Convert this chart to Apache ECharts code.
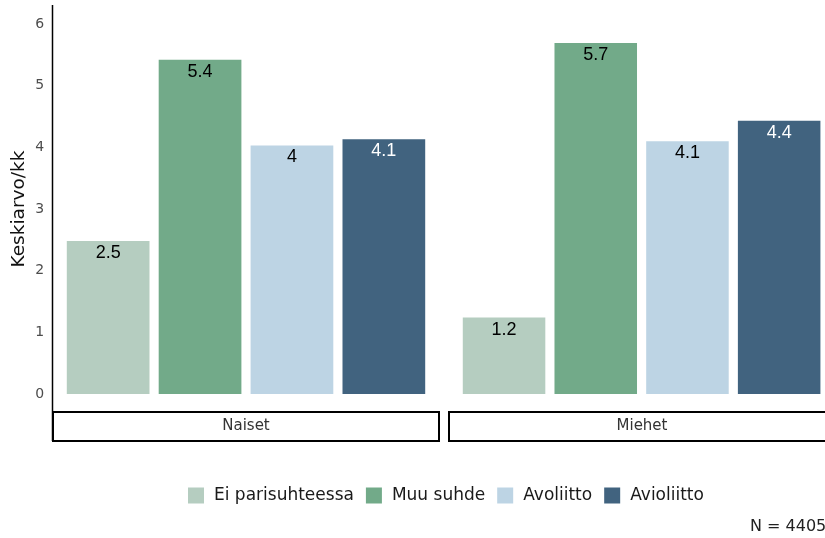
<!DOCTYPE html>
<html><head><meta charset="utf-8">
<script src="https://cdn.jsdelivr.net/npm/echarts@6/dist/echarts.min.js"></script>
<style>html,body{margin:0;padding:0;background:#fff}#c{width:825px;height:538px}</style>
</head><body><div id="c"></div>
<script>
const categories = ['Ei parisuhteessa','Muu suhde','Avoliitto','Avioliitto'];
const facets = ['Naiset','Miehet'];
const naiset = [2.48, 5.42, 4.03, 4.13];
const miehet = [1.24, 5.69, 4.10, 4.43];
const yTicks = [0,1,2,3,4,5,6];
const colors = ['#b5cdc0','#72aa89','#bdd4e4','#41637f'];
const labelColors = ['#000','#000','#000','#fff'];
const caption = 'N = 4405';
const yTitle = 'Keskiarvo/kk';

const font = 'DejaVu Sans';
const chart = echarts.init(document.getElementById('c'));
const values = [naiset, miehet];
const grids = [{left:62.2, width:367.6, top:24, height:370},{left:458.2, width:367.6, top:24, height:370}];
const series = [];
values.forEach((vals, g) => {
  categories.forEach((cat, i) => {
    series.push({
      type:'bar', name:cat, xAxisIndex:g, yAxisIndex:g,
      barGap:'-100%', barCategoryGap:'10%',
      itemStyle:{color:colors[i]},
      data: categories.map((c,j)=> j===i ? vals[j] : null),
      label:{show:true, position:'insideTop', distance:3, color:labelColors[i],
        fontFamily:'Liberation Sans', fontSize:18,
        formatter:p=>String(Math.round(p.value*10)/10)}
    });
  });
});
chart.setOption({
  animation:false,
  grid:grids,
  legend:{data:categories, left:183, top:482, itemWidth:16, itemHeight:16, itemGap:12,
    textStyle:{fontFamily:font, fontSize:17, color:'#1a1a1a', padding:[0,0,0,5]}, icon:'rect'},
  xAxis:grids.map((g,i)=>({type:'category', gridIndex:i, data:categories, show:false})),
  yAxis:grids.map((g,i)=>({type:'value', gridIndex:i, min:yTicks[0], max:yTicks[yTicks.length-1], interval:1,
    show:i===0, splitLine:{show:false}, axisLine:{show:false}, axisTick:{show:false},
    axisLabel:{fontFamily:font, fontSize:14, color:'#4d4d4d', margin:18},
    name: i===0 ? yTitle : '', nameLocation:'middle', nameGap:34,
    nameTextStyle:{fontFamily:font, fontSize:18.5, color:'#111'}})),
  series:series,
  graphic:[
    {type:'line', shape:{x1:52.5,y1:5,x2:52.5,y2:441}, style:{stroke:'#000', lineWidth:1.5}, z:10},
    {type:'rect', shape:{x:53,y:412,width:386,height:29}, style:{fill:'#fff', stroke:'#000', lineWidth:2}},
    {type:'text', x:246, y:426.5, style:{text:facets[0], fill:'#333', fontFamily:font, fontSize:15, align:'center', verticalAlign:'middle'}},
    {type:'rect', shape:{x:449,y:412,width:386,height:29}, style:{fill:'#fff', stroke:'#000', lineWidth:2}},
    {type:'text', x:642, y:426.5, style:{text:facets[1], fill:'#333', fontFamily:font, fontSize:15, align:'center', verticalAlign:'middle'}},
    {type:'text', x:750, y:527, style:{text:caption, fill:'#222', fontFamily:font, fontSize:16, verticalAlign:'middle'}}
  ]
});
</script></body></html>
